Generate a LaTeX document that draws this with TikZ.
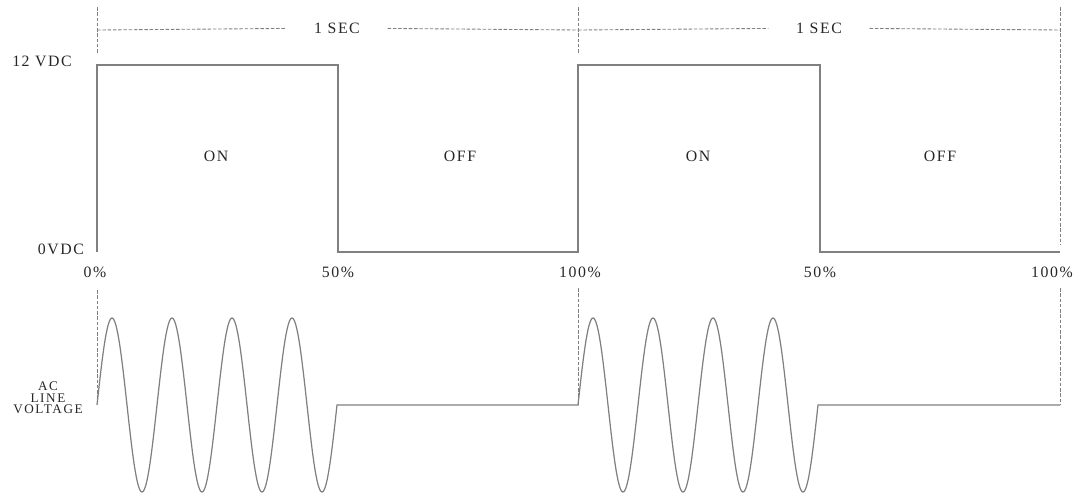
\documentclass[tikz,border=0pt]{standalone}
\usepackage{fontspec}
\setmainfont{Liberation Serif}
\usetikzlibrary{positioning}
\tikzset{%
	signal/.style={
		draw=black!50,
		line width=0.7pt
	},
	guide/.style={
		draw=black!50,
		dash pattern=on 2pt off 1pt,
		line width=0.5pt
	},
	tag/.style={
		font=\fontsize{9}{10}\selectfont\addfontfeature{LetterSpace=10},
		text=black!85,
		inner sep=0pt
	},
	period/.style={
		tag,
		inner xsep=0.55cm
	},
}

\begin{document}
\begin{tikzpicture}[x=0.02cm, y=-0.02cm]
	\useasboundingbox (0,0) rectangle (1078,495);

	% Period marks and one second spans
	\coordinate (p0) at (97,30);
	\coordinate (p1) at (578,30);
	\coordinate (p2) at (1060,30);
	\node[period] (sec1) at (337,28) {1 SEC};
	\node[period] (sec2) at (819,28) {1 SEC};
	\draw[guide] (p0) -- (sec1) -- (p1);
	\draw[guide] (p1) -- (sec2) -- (p2);
	\draw[guide] (97,7) -- (97,53);
	\draw[guide] (578,7) -- (578,53);
	\draw[guide] (1060,7) -- (1060,245);

	% Control signal
	\node[tag] (high) at (42,61) {12 VDC};
	\node[tag] (low) at (61,249) {0VDC};
	\draw[signal] (97,252) -- (97,65) -- (338,65) -- (338,252) -- (578,252)
		-- (578,65) -- (820,65) -- (820,252) -- (1060,252);
	\node[tag] (on1) at (216,156) {ON};
	\node[tag] (off1) at (460,156) {OFF};
	\node[tag] (on2) at (698,156) {ON};
	\node[tag] (off2) at (940,156) {OFF};

	% Duty cycle marks
	\node[tag] (d0) at (95,272) {0\%};
	\node[tag] (d1) at (338,272) {50\%};
	\node[tag] (d2) at (580,272) {100\%};
	\node[tag] (d3) at (820,272) {50\%};
	\node[tag] (d4) at (1052,272) {100\%};

	% AC line voltage
	\node[tag, align=center, font=\fontsize{7.5}{6.6}\selectfont\addfontfeature{LetterSpace=12}] (ac) at (48,398) {AC\\LINE\\VOLTAGE};
	\draw[guide] (97,290) -- (97,405);
	\draw[guide] (578,288) -- (578,405);
	\draw[guide] (1060,288) -- (1060,405);
	\draw[signal] plot[domain=0:240, samples=241] ({97+\x},{405-87*sin(6*\x)})
		-- (578,405)
		-- plot[domain=0:240, samples=241] ({578+\x},{405-87*sin(6*\x)})
		-- (1060,405);
\end{tikzpicture}
\end{document}
